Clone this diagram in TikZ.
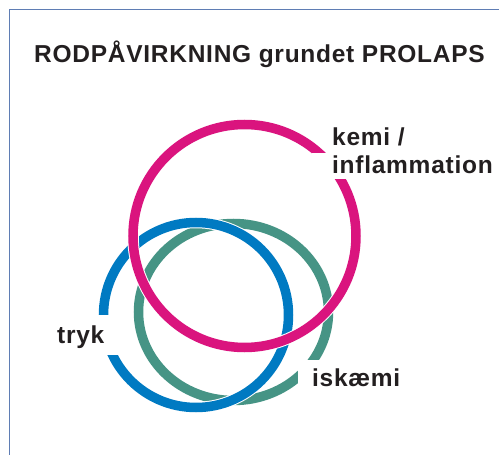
\documentclass[tikz,border=0pt]{standalone}
\usepackage{fontspec}
\setmainfont{Liberation Sans}
\definecolor{kemicol}{RGB}{218,20,126}
\definecolor{trykcol}{RGB}{0,122,194}
\definecolor{iskcol}{RGB}{70,148,133}
\definecolor{framecol}{RGB}{95,125,180}
\definecolor{textcol}{RGB}{35,31,32}

\begin{document}
\begin{tikzpicture}[x=1pt, y=-1pt,
                          ring/.style={draw=white, line width=1pt, double=#1, double distance=9.5pt},
                          label/.style={font=\fontsize{24.5}{28}\selectfont\bfseries\addfontfeatures{LetterSpace=3}, text=textcol, inner sep=0pt},
                          cutlabel/.style={label, fill=white},
                      ]
                      \useasboundingbox (0,0) rectangle (499,455);
                      \draw[framecol, line width=1.5pt] (9.3,460) -- (9.3,9.3) -- (505,9.3);

                      %Rings
                      \coordinate (cIsk)  at (233.5,312);
                      \coordinate (cTryk) at (196,315);
                      \coordinate (cKemi) at (244.5,236);
                      \draw[ring=iskcol]  (cIsk)  ellipse [x radius=95pt, y radius=88.5pt];
                      \draw[ring=trykcol] (cTryk) circle [radius=92.5pt];
                      \draw[ring=kemicol] (cKemi) circle [radius=111.5pt];

                      %Nodes
                      \node[label, anchor=base] (title) at (259.5,63) {RODPÅVIRKNING grundet PROLAPS};
                      \node[label, anchor=base west] (kemi) at (332,145) {kemi /};
                      \node[cutlabel, anchor=base west, inner xsep=20pt, inner ysep=2pt, text height=18pt, text depth=4pt] (infl) at (312,173) {inflammation};
                      \node[cutlabel, anchor=base west, inner xsep=15pt, inner ysep=8pt, text height=20pt, text depth=4pt] (tryk) at (42,343) {tryk};
                      \node[cutlabel, anchor=base west, inner xsep=14pt, inner ysep=8pt, text height=18pt, text depth=4pt] (isk) at (298,386) {iskæmi};
                  \end{tikzpicture}
\end{document}
